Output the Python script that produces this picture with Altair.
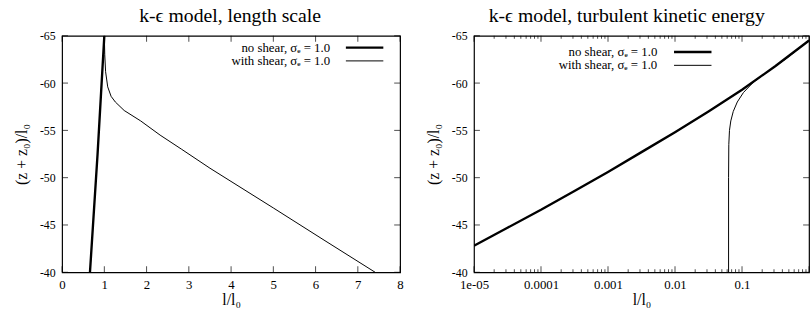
import altair as alt
import pandas as pd

# ---- left panel: length scale l/l0 against depth (z+z0)/l0 ----
ls_noshear_l = [0.66, 0.84, 1.00]
ls_noshear_z = [-40.0, -52.5, -65.0]
ls_shear_l = [1.00, 1.01, 1.03, 1.08, 1.16, 1.26, 1.47, 1.86, 2.32, 2.83, 3.50, 5.00, 6.20, 7.41]
ls_shear_z = [-65.0, -63.0, -61.2, -59.6, -58.6, -58.0, -57.1, -56.0, -54.5, -53.0, -51.0, -46.8, -43.4, -40.0]

# ---- right panel: turbulent kinetic energy (log axis) ----
ke_noshear_k = [1e-05, 3.16e-05, 1e-04, 3.16e-04, 1e-03, 3.16e-03, 1e-02, 3.16e-02, 0.1, 0.316, 1.0]
ke_noshear_z = [-42.8, -44.7, -46.6, -48.6, -50.6, -52.7, -54.8, -57.0, -59.3, -61.8, -64.5]
ke_shear_k = [0.063, 0.063, 0.0635, 0.065, 0.068, 0.074, 0.085, 0.105, 0.148, 0.209, 0.46, 1.0]
ke_shear_z = [-40.0, -50.0, -53.5, -55.0, -56.0, -57.0, -58.0, -59.0, -60.1, -60.9, -62.6, -64.5]

# ---- axis ticks and texts ----
z_ticks = [-65, -60, -55, -50, -45, -40]
ls_ticks = [0, 1, 2, 3, 4, 5, 6, 7, 8]
ke_major = [1e-05, 1e-04, 1e-03, 1e-02, 0.1, 1.0]
ke_labelled = [1e-05, 1e-04, 1e-03, 1e-02, 0.1]
ke_minor = [m * 10.0 ** d for d in range(-5, 0) for m in range(2, 10)]

series_names = ["no shear, σₑ = 1.0", "with shear, σₑ = 1.0"]
series_widths = [2.4, 1.0]
titles = ["k-ϵ model, length scale", "k-ϵ model, turbulent kinetic energy"]
x_title = "l/l₀"
y_title = "(z + z₀)/l₀"

FONT = "Liberation Serif"
H = 240
W_LEFT = 343
W_RIGHT = 340
MAJOR = 6
MINOR = 3

y_scale = alt.Scale(domain=[-65, -40], reverse=True, nice=False, zero=False)


def frame(xs, zs):
    return pd.DataFrame({"x": xs, "z": zs, "i": list(range(len(xs)))})


def label_axes(xvals, xexpr):
    ax = alt.Axis(orient="bottom", values=xvals, labelExpr=xexpr, ticks=False, domain=False,
                  grid=False, title=x_title, labelFont=FONT, labelFontSize=13, labelColor="black",
                  labelPadding=6, titleFont=FONT, titleFontSize=16, titleFontWeight="normal",
                  titleColor="black", titlePadding=1, labelFlush=False)
    ay = alt.Axis(orient="left", values=z_ticks, labelExpr="toString(datum.value)", ticks=False,
                  domain=False, grid=False, title=y_title, labelFont=FONT, labelFontSize=12,
                  labelColor="black", labelPadding=7, titleFont=FONT, titleFontSize=16,
                  titleFontWeight="normal", titleColor="black", titlePadding=10)
    return ax, ay


def line_layer(df, xs, width, ax=None, ay=None):
    x_kw = {"axis": ax} if ax is not None else {"axis": None}
    y_kw = {"axis": ay} if ay is not None else {"axis": None}
    return alt.Chart(df).mark_line(color="black", strokeWidth=width, clip=True).encode(
        x=alt.X("x:Q", scale=xs, **x_kw),
        y=alt.Y("z:Q", scale=y_scale, **y_kw),
        order=alt.Order("i:Q"),
    )


def x_ticks_inside(vals, xs, size):
    """Inward tick marks along the bottom and top edges of the frame."""
    d = pd.DataFrame({"v": vals})
    base = alt.Chart(d).mark_tick(color="black", size=size, thickness=1, orient="vertical")
    bottom = base.encode(x=alt.X("v:Q", scale=xs, axis=None), y=alt.value(H - size / 2))
    top = base.encode(x=alt.X("v:Q", scale=xs, axis=None), y=alt.value(size / 2))
    return [bottom, top]


def y_ticks_inside(width, size):
    """Inward tick marks along the left and right edges of the frame."""
    d = pd.DataFrame({"v": z_ticks})
    base = alt.Chart(d).mark_tick(color="black", size=size, thickness=1, orient="horizontal")
    left = base.encode(y=alt.Y("v:Q", scale=y_scale, axis=None), x=alt.value(size / 2))
    right = base.encode(y=alt.Y("v:Q", scale=y_scale, axis=None), x=alt.value(width - size / 2))
    return [left, right]


def legend_layers(text_right, line_x0, line_x1, rows_y):
    out = []
    for name, w, yy in zip(series_names, series_widths, rows_y):
        d = pd.DataFrame({"t": [name]})
        out.append(alt.Chart(d).mark_text(align="right", baseline="middle", font=FONT,
                                          fontSize=13, color="black").encode(
            text="t:N", x=alt.value(text_right), y=alt.value(yy)))
        out.append(alt.Chart(d).mark_rule(color="black", strokeWidth=w).encode(
            x=alt.value(line_x0), x2=alt.value(line_x1), y=alt.value(yy)))
    return out


def title_params(text, dx):
    return alt.TitleParams(text, font=FONT, fontSize=20, fontWeight="normal",
                           color="black", offset=4, dx=dx, frame="group")


# left panel
xs_left = alt.Scale(domain=[0, 8], nice=False, zero=False)
ax0, ay0 = label_axes(ls_ticks, "toString(datum.value)")
left = alt.layer(
    line_layer(frame(ls_noshear_l, ls_noshear_z), xs_left, series_widths[0], ax0, ay0),
    line_layer(frame(ls_shear_l, ls_shear_z), xs_left, series_widths[1]),
    *x_ticks_inside(ls_ticks, xs_left, MAJOR),
    *y_ticks_inside(W_LEFT, MAJOR),
    *legend_layers(272, 288, 326, [12, 25.5]),
).resolve_axis(x="independent", y="independent").properties(
    width=W_LEFT, height=H, title=title_params(titles[0], -1))

# right panel
xs_right = alt.Scale(type="log", domain=[1e-05, 1.0], nice=False)
ax1, ay1 = label_axes(ke_labelled,
                      "datum.value < 0.00005 ? '1e-05' : toString(datum.value)")
right = alt.layer(
    line_layer(frame(ke_noshear_k, ke_noshear_z), xs_right, series_widths[0], ax1, ay1),
    line_layer(frame(ke_shear_k, ke_shear_z), xs_right, series_widths[1]),
    *x_ticks_inside(ke_major, xs_right, MAJOR),
    *x_ticks_inside(ke_minor, xs_right, MINOR),
    *y_ticks_inside(W_RIGHT, MAJOR),
    *legend_layers(186, 203, 241, [16.5, 30]),
).resolve_axis(x="independent", y="independent").properties(
    width=W_RIGHT, height=H, title=title_params(titles[1], -15))

chart = alt.hconcat(left, right, spacing=21).properties(
    padding={"left": 13, "top": 3, "right": 0, "bottom": 0},
    background="white",
).configure_view(stroke="black", strokeWidth=1.2)

chart.save("out.html", embed_options={"renderer": "svg", "actions": False})
